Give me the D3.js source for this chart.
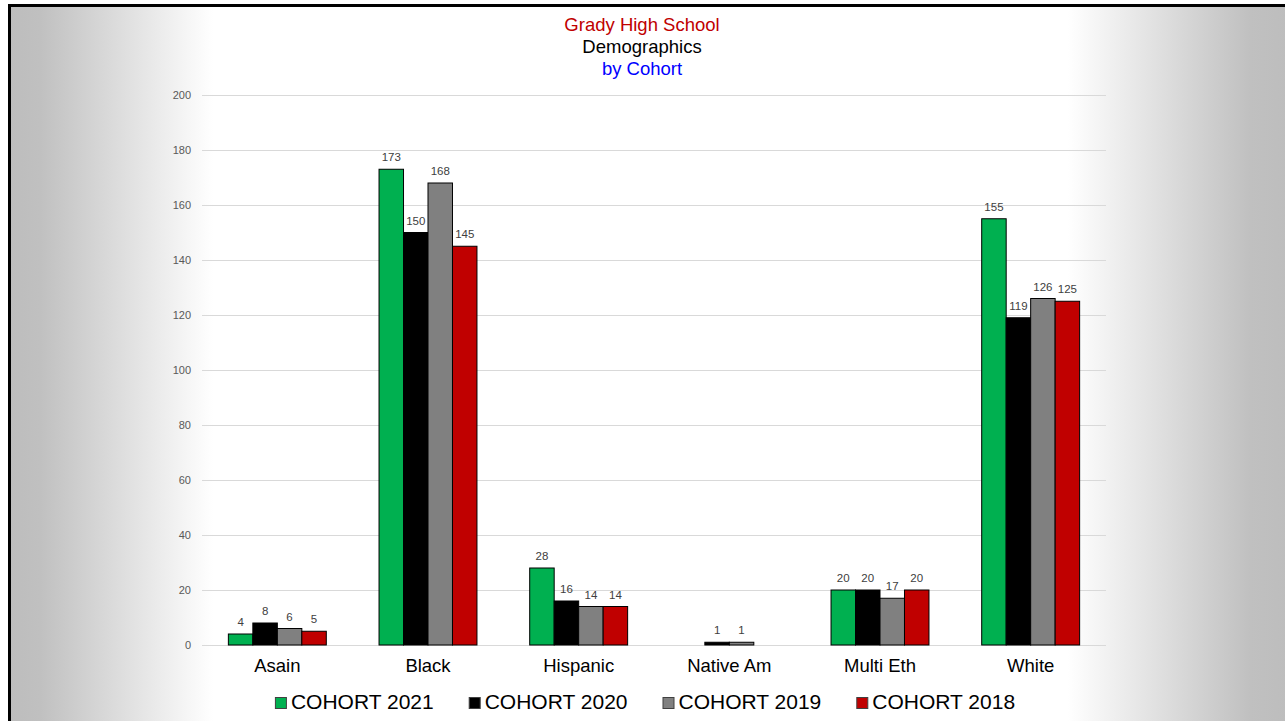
<!DOCTYPE html>
<html>
<head>
<meta charset="utf-8">
<script src="https://cdn.jsdelivr.net/npm/d3@7"></script>
<style>
  html, body { margin: 0; padding: 0; background: #ffffff; overflow: hidden; }
  svg { display: block; }
</style>
</head>
<body>
<svg id="chart" width="1285" height="721"></svg>
<script>
const categories = ["Asain", "Black", "Hispanic", "Native Am", "Multi Eth", "White"];
const seriesNames = ["COHORT 2021", "COHORT 2020", "COHORT 2019", "COHORT 2018"];
const cohort2021 = [4, 173, 28, 0, 20, 155];
const cohort2020 = [8, 150, 16, 1, 20, 119];
const cohort2019 = [6, 168, 14, 1, 17, 126];
const cohort2018 = [5, 145, 14, 0, 20, 125];
const seriesValues = [cohort2021, cohort2020, cohort2019, cohort2018];
const seriesColors = ["#00b050", "#000000", "#808080", "#c00000"];
const yTicks = [0, 20, 40, 60, 80, 100, 120, 140, 160, 180, 200];
const titleLines = [
  { text: "Grady High School", color: "#c00000" },
  { text: "Demographics", color: "#000000" },
  { text: "by Cohort", color: "#0000ff" }
];

const svg = d3.select("#chart");
const FONT = "'Liberation Sans', Arial, sans-serif";

// background gradient panel
const defs = svg.append("defs");
const grad = defs.append("linearGradient")
  .attr("id", "bg").attr("gradientUnits", "userSpaceOnUse")
  .attr("x1", 10).attr("x2", 1290).attr("y1", 0).attr("y2", 0);
[[10, "#bdbdbd"], [40, "#c0c0c0"], [213, "#ffffff"], [1068, "#ffffff"], [1250, "#c0c0c0"], [1290, "#bdbdbd"]]
  .forEach(([x, c]) => grad.append("stop").attr("offset", ((x - 10) / 1280 * 100) + "%").attr("stop-color", c));

svg.append("rect").attr("x", 9.5).attr("y", 5.5).attr("width", 1290).attr("height", 730)
  .attr("fill", "url(#bg)").attr("stroke", "#000").attr("stroke-width", 3);

// scales
const y = d3.scaleLinear().domain([0, 200]).range([645, 95]);
const x0 = d3.scaleBand().domain(categories).range([202, 1106]).padding(0);
const groupW = x0.bandwidth() * 0.65;
const x1 = d3.scaleBand().domain(seriesNames).range([0, groupW]).padding(0);

// gridlines
svg.append("g").selectAll("line").data(yTicks).join("line")
  .attr("x1", 202).attr("x2", 1106)
  .attr("y1", d => Math.round(y(d)) + 0.5).attr("y2", d => Math.round(y(d)) + 0.5)
  .attr("stroke", "#d9d9d9").attr("stroke-width", 1);

// y axis labels
const yAxis = d3.axisLeft(y).tickValues(yTicks).tickSize(0).tickPadding(0);
const ya = svg.append("g").attr("transform", "translate(191,0)").call(yAxis);
ya.select(".domain").remove();
ya.selectAll("text").attr("font-family", FONT).attr("font-size", 11).attr("fill", "#595959");

// bars
const groups = svg.append("g").selectAll("g").data(categories).join("g")
  .attr("transform", d => `translate(${x0(d) + (x0.bandwidth() - groupW) / 2},0)`);

groups.each(function (cat, ci) {
  const g = d3.select(this);
  seriesNames.forEach((s, si) => {
    const v = seriesValues[si][ci];
    if (v > 0) {
      g.append("rect")
        .attr("x", x1(s)).attr("y", y(v))
        .attr("width", x1.bandwidth()).attr("height", y(0) - y(v))
        .attr("fill", seriesColors[si]).attr("stroke", "#000").attr("stroke-width", 1);
      g.append("text")
        .attr("x", x1(s) + x1.bandwidth() / 2).attr("y", y(v) - 8)
        .attr("text-anchor", "middle")
        .attr("font-family", FONT).attr("font-size", 11.5).attr("fill", "#404040")
        .text(v);
    }
  });
});

// x axis category labels
const xAxis = d3.axisBottom(x0).tickSize(0).tickPadding(0);
const xa = svg.append("g").attr("transform", "translate(0,659)").call(xAxis);
xa.select(".domain").remove();
xa.selectAll("text").attr("font-family", FONT).attr("font-size", 18.5).attr("fill", "#000");

// title
svg.append("g").selectAll("text").data(titleLines).join("text")
  .attr("x", 642).attr("y", (d, i) => 31 + i * 22)
  .attr("text-anchor", "middle")
  .attr("font-family", FONT).attr("font-size", 18.5)
  .attr("fill", d => d.color)
  .text(d => d.text);

// legend
const legend = svg.append("g");
const items = legend.selectAll("g").data(seriesNames).join("g");
items.append("rect").attr("x", 0.5).attr("width", 11).attr("height", 11).attr("y", -11.5)
  .attr("fill", (d, i) => seriesColors[i]).attr("stroke", "#404040").attr("stroke-width", 1);
items.append("text").attr("x", 16).attr("y", 0)
  .attr("font-family", FONT).attr("font-size", 21).attr("fill", "#000")
  .text(d => d);
let pos = 0;
const positions = [];
items.each(function () {
  const w = d3.select(this).select("text").node().getComputedTextLength() + 16;
  positions.push(pos);
  pos += w + 35;
});
const totalW = pos - 35;
const startX = 645 - totalW / 2;
items.attr("transform", (d, i) => `translate(${startX + positions[i]},709)`);
</script>
</body>
</html>
